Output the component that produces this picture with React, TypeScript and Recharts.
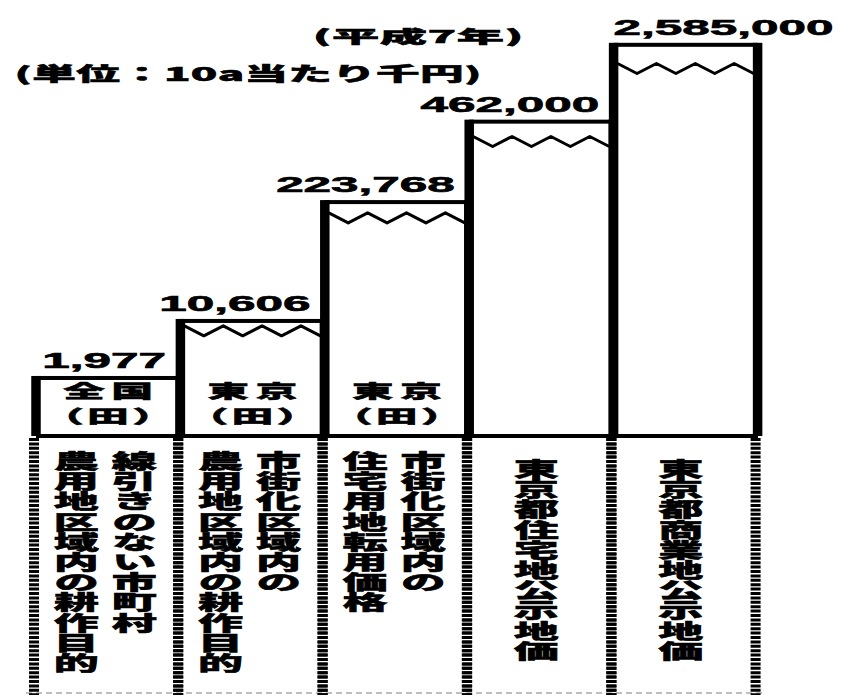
import React from 'react';
import { BarChart, Bar, XAxis, YAxis, LabelList } from 'recharts';

const CHART_W = 843;
const CHART_H = 695;

// ---- data ----
const categoryNames = [
  '線引きのない市町村農用地区域内の耕作目的',
  '市街化区域内の農用地区域内の耕作目的',
  '市街化区域内の住宅用地転用価格',
  '東京都住宅地公示地価',
  '東京都商業地公示地価',
];
// vertical label columns, read right-to-left
const categoryColumns: string[][] = [
  ['線引きのない市町村', '農用地区域内の耕作目的'],
  ['市街化区域内の', '農用地区域内の耕作目的'],
  ['市街化区域内の', '住宅用地転用価格'],
  ['東京都住宅地公示地価'],
  ['東京都商業地公示地価'],
];
const values = [1977, 10606, 223768, 462000, 2585000];
const tagTop = ['全国', '東京', '東京', '', ''];
const tagBottom = ['（田）', '（田）', '（田）', '', ''];
// the value axis is broken (wavy marks): schematic level at which each value is drawn
const brokenAxisLevels = [1, 1.95, 3.93, 5.27, 6.55];
const axisTopValue = 3000000;
const axisTopLevel = 6.93;
const yearText = '(平成7年)';
const unitText = '(単位：10a当たり千円)';

const data = categoryNames.map((name, i) => ({
  name,
  value: values[i],
  tagTop: tagTop[i],
  tagBottom: tagBottom[i],
}));

// ---- piecewise (broken) scale ----
function makeBrokenScale(breaks: number[], levels: number[]): any {
  let dom: number[] = [breaks[0], breaks[breaks.length - 1]];
  let rng: number[] = [0, 1];
  const maxLevel = levels[levels.length - 1];
  const levelOf = (v: number) => {
    if (v <= breaks[0]) return levels[0];
    for (let i = 1; i < breaks.length; i++) {
      if (v <= breaks[i]) {
        const t = (v - breaks[i - 1]) / (breaks[i] - breaks[i - 1]);
        return levels[i - 1] + t * (levels[i] - levels[i - 1]);
      }
    }
    return maxLevel;
  };
  const scale: any = (v: number) => rng[0] + ((rng[1] - rng[0]) * levelOf(Number(v))) / maxLevel;
  scale.domain = (d?: number[]) => {
    if (d === undefined) return dom.slice();
    dom = d.slice();
    return scale;
  };
  scale.range = (r?: number[]) => {
    if (r === undefined) return rng.slice();
    rng = r.slice();
    return scale;
  };
  scale.copy = () => makeBrokenScale(breaks, levels).domain(dom).range(rng);
  scale.ticks = () => breaks.slice();
  scale.tickFormat = () => (v: number) => String(v);
  return scale;
}
const yScale = makeBrokenScale([0, ...values, axisTopValue], [0, ...brokenAxisLevels, axisTopLevel]);

const CJK = "'Noto Sans CJK JP', 'Noto Sans', sans-serif";
const NUM = "'Liberation Sans', Arial, sans-serif";

function SText(props: any) {
  const {
    x, y, sx, fontSize, children, anchor = 'middle', family = CJK, weight = 900,
    spacing = 0, baseline = 'central', textLength, heavy = 0.5,
  } = props;
  return (
    <text
      transform={`translate(${x},${y}) scale(${sx},1)`}
      x={anchor === 'middle' && !textLength ? spacing / 2 : 0}
      y={0}
      textAnchor={anchor}
      dominantBaseline={baseline}
      fontSize={fontSize}
      fontFamily={family}
      fontWeight={weight}
      letterSpacing={textLength ? undefined : spacing}
      textLength={textLength}
      lengthAdjust={textLength ? 'spacing' : undefined}
      fill="#000"
      stroke="#000"
      strokeWidth={heavy}
    >
      {children}
    </text>
  );
}

const BarShape = (props: any) => {
  const { x, y, width, height, index, payload } = props;
  const bottom = y + height;
  const thick = 9.5;
  const waves: React.ReactNode[] = [];
  if (index > 0) {
    const c = y + 6 + 0.05 * height;
    const xl = x + 4;
    const xr = x + width - 4;
    const n = 7;
    const pts: string[] = [];
    for (let k = 0; k <= n; k++) {
      const px = xl + ((xr - xl) * k) / n;
      const py = k % 2 === 0 ? c - 5 : c + 5;
      pts.push(`${px},${py}`);
    }
    waves.push(
      <polyline key="w" points={pts.join(' ')} fill="none" stroke="#000" strokeWidth={3} strokeLinejoin="round" />
    );
  }
  return (
    <g>
      <rect x={x} y={y} width={width} height={Math.max(0, height - 2)} fill="#fff" />
      {waves}
      <rect x={x} y={y} width={width} height={4} fill="#000" />
      <rect x={x - thick / 2} y={y} width={thick} height={height} fill="#000" />
      <rect x={x + width - thick / 2} y={y} width={thick} height={height} fill="#000" />
      {payload && payload.tagTop ? (
        <SText x={x + width / 2} y={bottom - 46} sx={2.3} fontSize={18} spacing={3}>
          {payload.tagTop}
        </SText>
      ) : null}
      {payload && payload.tagBottom ? (
        <SText x={x + width / 2} y={bottom - 21} sx={2.3} fontSize={18} spacing={1.5}>
          {payload.tagBottom}
        </SText>
      ) : null}
      <line x1={x - 2} x2={x - 2} y1={bottom + 2} y2={CHART_H} stroke="#000" strokeWidth={10} strokeDasharray="3 1.4" />
      <line x1={x + width - 2} x2={x + width - 2} y1={bottom + 2} y2={CHART_H} stroke="#000" strokeWidth={10} strokeDasharray="3 1.4" />
    </g>
  );
};

const ValueLabel = (props: any) => {
  const { x, y, width, value } = props;
  let index = props.index;
  if (index === undefined || index === null) index = values.indexOf(Number(value));
  const text = Number(value).toLocaleString('en-US');
  const last = index === values.length - 1;
  const ax = last ? x : x + width - 14;
  return (
    <SText x={ax} y={y - 8} sx={2.3} fontSize={21.5} family={NUM} weight={700} anchor={last ? 'start' : 'end'} baseline="alphabetic" heavy={0.6}>
      {text}
    </SText>
  );
};

const CategoryTick = (props: any) => {
  const { x, y, payload } = props;
  const i = categoryNames.indexOf(payload.value);
  const cols = categoryColumns[i] || [];
  const n = cols.length;
  const top = y + (n > 1 ? 15 : 23);
  return (
    <g>
      {cols.map((col, c) => {
        const cx = n > 1 ? x - 3 + (c === 0 ? 29 : -29) : x - 5;
        return (
          <text
            key={c}
            transform={`translate(${cx},${top}) scale(2.2,1)`}
            x={0}
            y={0}
            textAnchor="start"
            fontSize={20.5}
            fontFamily={CJK}
            fontWeight={900}
            letterSpacing={-0.3}
            fill="#000"
            stroke="#000"
            strokeWidth={0.5}
            style={{ writingMode: 'vertical-rl' } as any}
          >
            {col}
          </text>
        );
      })}
    </g>
  );
};

export default function App() {
  return (
    <div style={{ position: 'absolute', left: 0, top: 0, background: '#fff' }}>
      <BarChart
        width={CHART_W}
        height={CHART_H}
        data={data}
        margin={{ top: 20, right: 85, bottom: 9, left: 36 }}
        barCategoryGap={0}
        barGap={0}
      >
        <XAxis
          dataKey="name"
          axisLine={{ stroke: '#000', strokeWidth: 4 }}
          tickLine={false}
          tickSize={0}
          tickMargin={0}
          height={250}
          interval={0}
          tick={<CategoryTick />}
        />
        <YAxis hide type="number" domain={[0, axisTopValue]} scale={yScale} />
        <Bar dataKey="value" shape={<BarShape />} isAnimationActive={false}>
          <LabelList dataKey="value" content={<ValueLabel />} />
        </Bar>
        <SText x={418} y={35} sx={2.7} fontSize={17.5} textLength={78}>
          {yearText}
        </SText>
        <SText x={248} y={73} sx={2.3} fontSize={19} textLength={203}>
          {unitText}
        </SText>
        <line x1={26} x2={764} y1={693} y2={693} stroke="#aaa" strokeWidth={1.5} strokeDasharray="6 4" />
      </BarChart>
    </div>
  );
}
